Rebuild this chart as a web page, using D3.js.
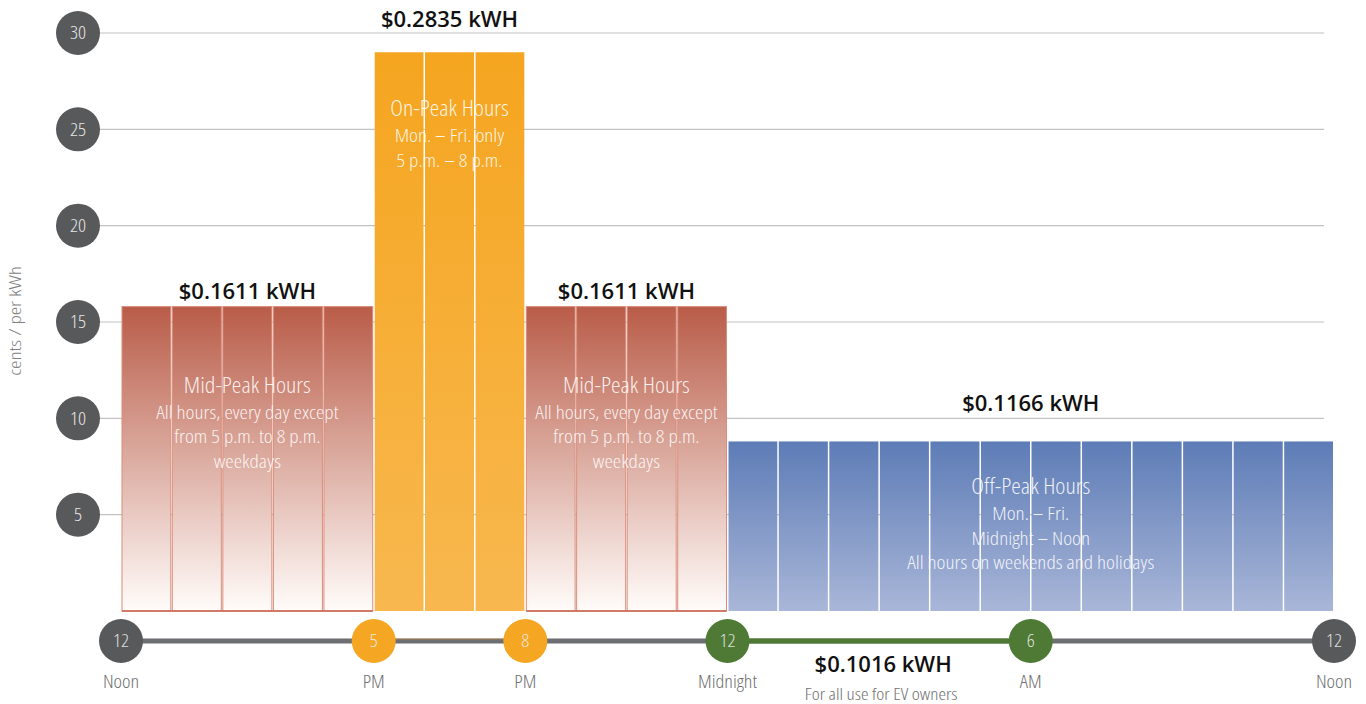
<!DOCTYPE html>
<html>
<head>
<meta charset="utf-8">
<script src="https://cdn.jsdelivr.net/npm/d3@7"></script>
<style>
  html, body { margin: 0; padding: 0; background: #fff; }
  svg { display: block; }
  .cond { font-family: "Open Sans", sans-serif; font-stretch: condensed; font-weight: 300; }
  .bold { font-family: "Open Sans", sans-serif; font-weight: 600; }
</style>
</head>
<body>
<svg id="chart" width="1366" height="704"></svg>
<script>
// ---- data ----
const periodNames = ["Mid-Peak Hours", "On-Peak Hours", "Mid-Peak Hours", "Off-Peak Hours"];
const periodKinds = ["mid", "on", "mid", "off"];
const startHours = [0, 5, 8, 12];
const endHours = [5, 8, 12, 24];
const barHeights = [15.8, 29.0, 15.8, 8.8];   // drawn bar heights (cents)
const priceLabels = ["$0.1611 kWH", "$0.2835 kWH", "$0.1611 kWH", "$0.1166 kWH"];
const periodNotes = [
  ["All hours, every day except", "from 5 p.m. to 8 p.m.", "weekdays"],
  ["Mon. – Fri. only", "5 p.m. – 8 p.m."],
  ["All hours, every day except", "from 5 p.m. to 8 p.m.", "weekdays"],
  ["Mon. – Fri.", "Midnight – Noon", "All hours on weekends and holidays"]
];
const yTicks = [5, 10, 15, 20, 25, 30];
const yAxisTitle = "cents / per kWh";
const timeHours = [0, 5, 8, 12, 18, 24];
const timeNumbers = ["12", "5", "8", "12", "6", "12"];
const timeNames = ["Noon", "PM", "PM", "Midnight", "AM", "Noon"];
const timeKinds = ["gray", "on", "on", "ev", "ev", "gray"];
const evPrice = "$0.1016 kWH";
const evNote = "For all use for EV owners";
const evStart = 12, evEnd = 18;

// ---- layout ----
const svg = d3.select("#chart");
const x = d3.scaleLinear().domain([0, 24]).range([121, 1334]);
const y = d3.scaleLinear().domain([0, 30]).range([611, 33]);
const gridX0 = 100, gridX1 = 1324, axisX = 78, tickR = 22;
const timelineY = 641;

const colors = { gray: "#58595b", on: "#f5a623", ev: "#4e7a35" };

// gradients
const defs = svg.append("defs");
function grad(id, top, bottom) {
  const g = defs.append("linearGradient").attr("id", id).attr("x1", 0).attr("x2", 0).attr("y1", 0).attr("y2", 1);
  g.append("stop").attr("offset", "0%").attr("stop-color", top);
  g.append("stop").attr("offset", "100%").attr("stop-color", bottom);
}
grad("g-mid", "#b95c48", "#fffcfa");
grad("g-on", "#f5a51f", "#f8b84f");
grad("g-off", "#5d7cb6", "#a9b6d8");

// gridlines
svg.append("g").selectAll("line").data(yTicks).join("line")
  .attr("x1", gridX0).attr("x2", gridX1)
  .attr("y1", d => y(d)).attr("y2", d => y(d))
  .attr("stroke", "#c2c2c2").attr("stroke-width", 1.2);

// y tick circles
const yt = svg.append("g").selectAll("g").data(yTicks).join("g")
  .attr("transform", d => `translate(${axisX},${y(d)})`);
yt.append("circle").attr("r", tickR).attr("fill", colors.gray);
yt.append("text").attr("class", "cond").attr("text-anchor", "middle").attr("dy", "0.35em")
  .attr("font-size", 18).attr("transform", "scale(1.1,1)").attr("fill", "#e6e6e6").text(d => d);

// y axis title
svg.append("text").attr("class", "cond")
  .attr("transform", "translate(21,321) rotate(-90) scale(1.25,1)")
  .attr("text-anchor", "middle").attr("font-size", 17).attr("fill", "#808080")
  .text(yAxisTitle);

// bars: one segment per hour
const segs = [];
periodNames.forEach((p, i) => {
  for (let h = startHours[i]; h < endHours[i]; h++) {
    segs.push({ h, i, kind: periodKinds[i], v: barHeights[i], first: h === startHours[i], last: h === endHours[i] - 1 });
  }
});
svg.append("g").selectAll("rect").data(segs).join("rect")
  .attr("x", d => x(d.h) + (d.first ? 1 : 0.75))
  .attr("width", d => x(d.h + 1) - x(d.h) - (d.first ? 1 : 0.75) - (d.last ? 1 : 0.75))
  .attr("y", d => y(d.v))
  .attr("height", d => y(0) - y(d.v))
  .attr("fill", d => `url(#g-${d.kind})`)
  .attr("stroke", d => d.kind === "mid" ? "#d98c7b" : "none")
  .attr("stroke-width", 1);
// mid-peak bottom edges
svg.append("g").selectAll("line").data(periodKinds.map((k, i) => ({ k, i })).filter(d => d.k === "mid")).join("line")
  .attr("x1", d => x(startHours[d.i]) + 1).attr("x2", d => x(endHours[d.i]) - 1)
  .attr("y1", y(0)).attr("y2", y(0)).attr("stroke", "#c9604c").attr("stroke-width", 1.5);

// price labels above bars
const labelGap = [8, 25, 8, 30];
svg.append("g").selectAll("text").data(priceLabels).join("text")
  .attr("class", "bold").attr("text-anchor", "middle").attr("font-size", 22).attr("fill", "#111")
  .attr("x", (d, i) => (x(startHours[i]) + x(endHours[i])) / 2)
  .attr("y", (d, i) => y(barHeights[i]) - labelGap[i])
  .text(d => d);

// inner texts (condensed face widened slightly to match the reference's letter widths)
const titleDrop = [86, 64, 86, 53];
periodNames.forEach((p, i) => {
  const cx = (x(startHours[i]) + x(endHours[i])) / 2;
  const ty = y(barHeights[i]) + titleDrop[i];
  const g = svg.append("g").attr("fill", "#fff").attr("fill-opacity", 0.88).attr("class", "cond").attr("text-anchor", "middle");
  g.append("text").attr("transform", `translate(${cx},${ty}) scale(1.1,1)`).attr("font-size", 22).text(p);
  periodNotes[i].forEach((line, j) => {
    g.append("text").attr("transform", `translate(${cx},${ty + 26 + j * 24.5}) scale(1.18,1)`)
      .attr("font-size", 18).text(line);
  });
});

// timeline
svg.append("line").attr("x1", x(0)).attr("x2", x(24)).attr("y1", timelineY).attr("y2", timelineY)
  .attr("stroke", "#6d6e71").attr("stroke-width", 5);
svg.append("line").attr("x1", x(5)).attr("x2", x(8)).attr("y1", timelineY - 2).attr("y2", timelineY - 2)
  .attr("stroke", "#c98a3a").attr("stroke-width", 1).attr("stroke-opacity", 0.6);
svg.append("line").attr("x1", x(evStart)).attr("x2", x(evEnd)).attr("y1", timelineY).attr("y2", timelineY)
  .attr("stroke", colors.ev).attr("stroke-width", 5);

const tg = svg.append("g").selectAll("g").data(timeHours).join("g")
  .attr("transform", d => `translate(${x(d)},${timelineY})`);
tg.append("circle").attr("r", tickR).attr("fill", (d, i) => colors[timeKinds[i]]);
tg.append("text").attr("class", "cond").attr("text-anchor", "middle").attr("dy", "0.35em")
  .attr("font-size", 18).attr("transform", "scale(1.1,1)").attr("fill", "#eeeeee").attr("fill-opacity", 0.9).text((d, i) => timeNumbers[i]);
tg.append("text").attr("class", "cond").attr("text-anchor", "middle")
  .attr("transform", "translate(0,47) scale(1.12,1)")
  .attr("font-size", 18).attr("fill", "#6f6f6f").text((d, i) => timeNames[i]);

// EV rate
const evX = (x(evStart) + x(evEnd)) / 2 + 6;
svg.append("text").attr("class", "bold").attr("text-anchor", "middle").attr("font-size", 22).attr("fill", "#111")
  .attr("x", evX - 2).attr("y", timelineY + 31).text(evPrice);
svg.append("text").attr("class", "cond").attr("text-anchor", "middle").attr("font-size", 16.5).attr("fill", "#707070")
  .attr("transform", `translate(${evX - 4},${timelineY + 59}) scale(1.16,1)`).text(evNote);
</script>
</body>
</html>
